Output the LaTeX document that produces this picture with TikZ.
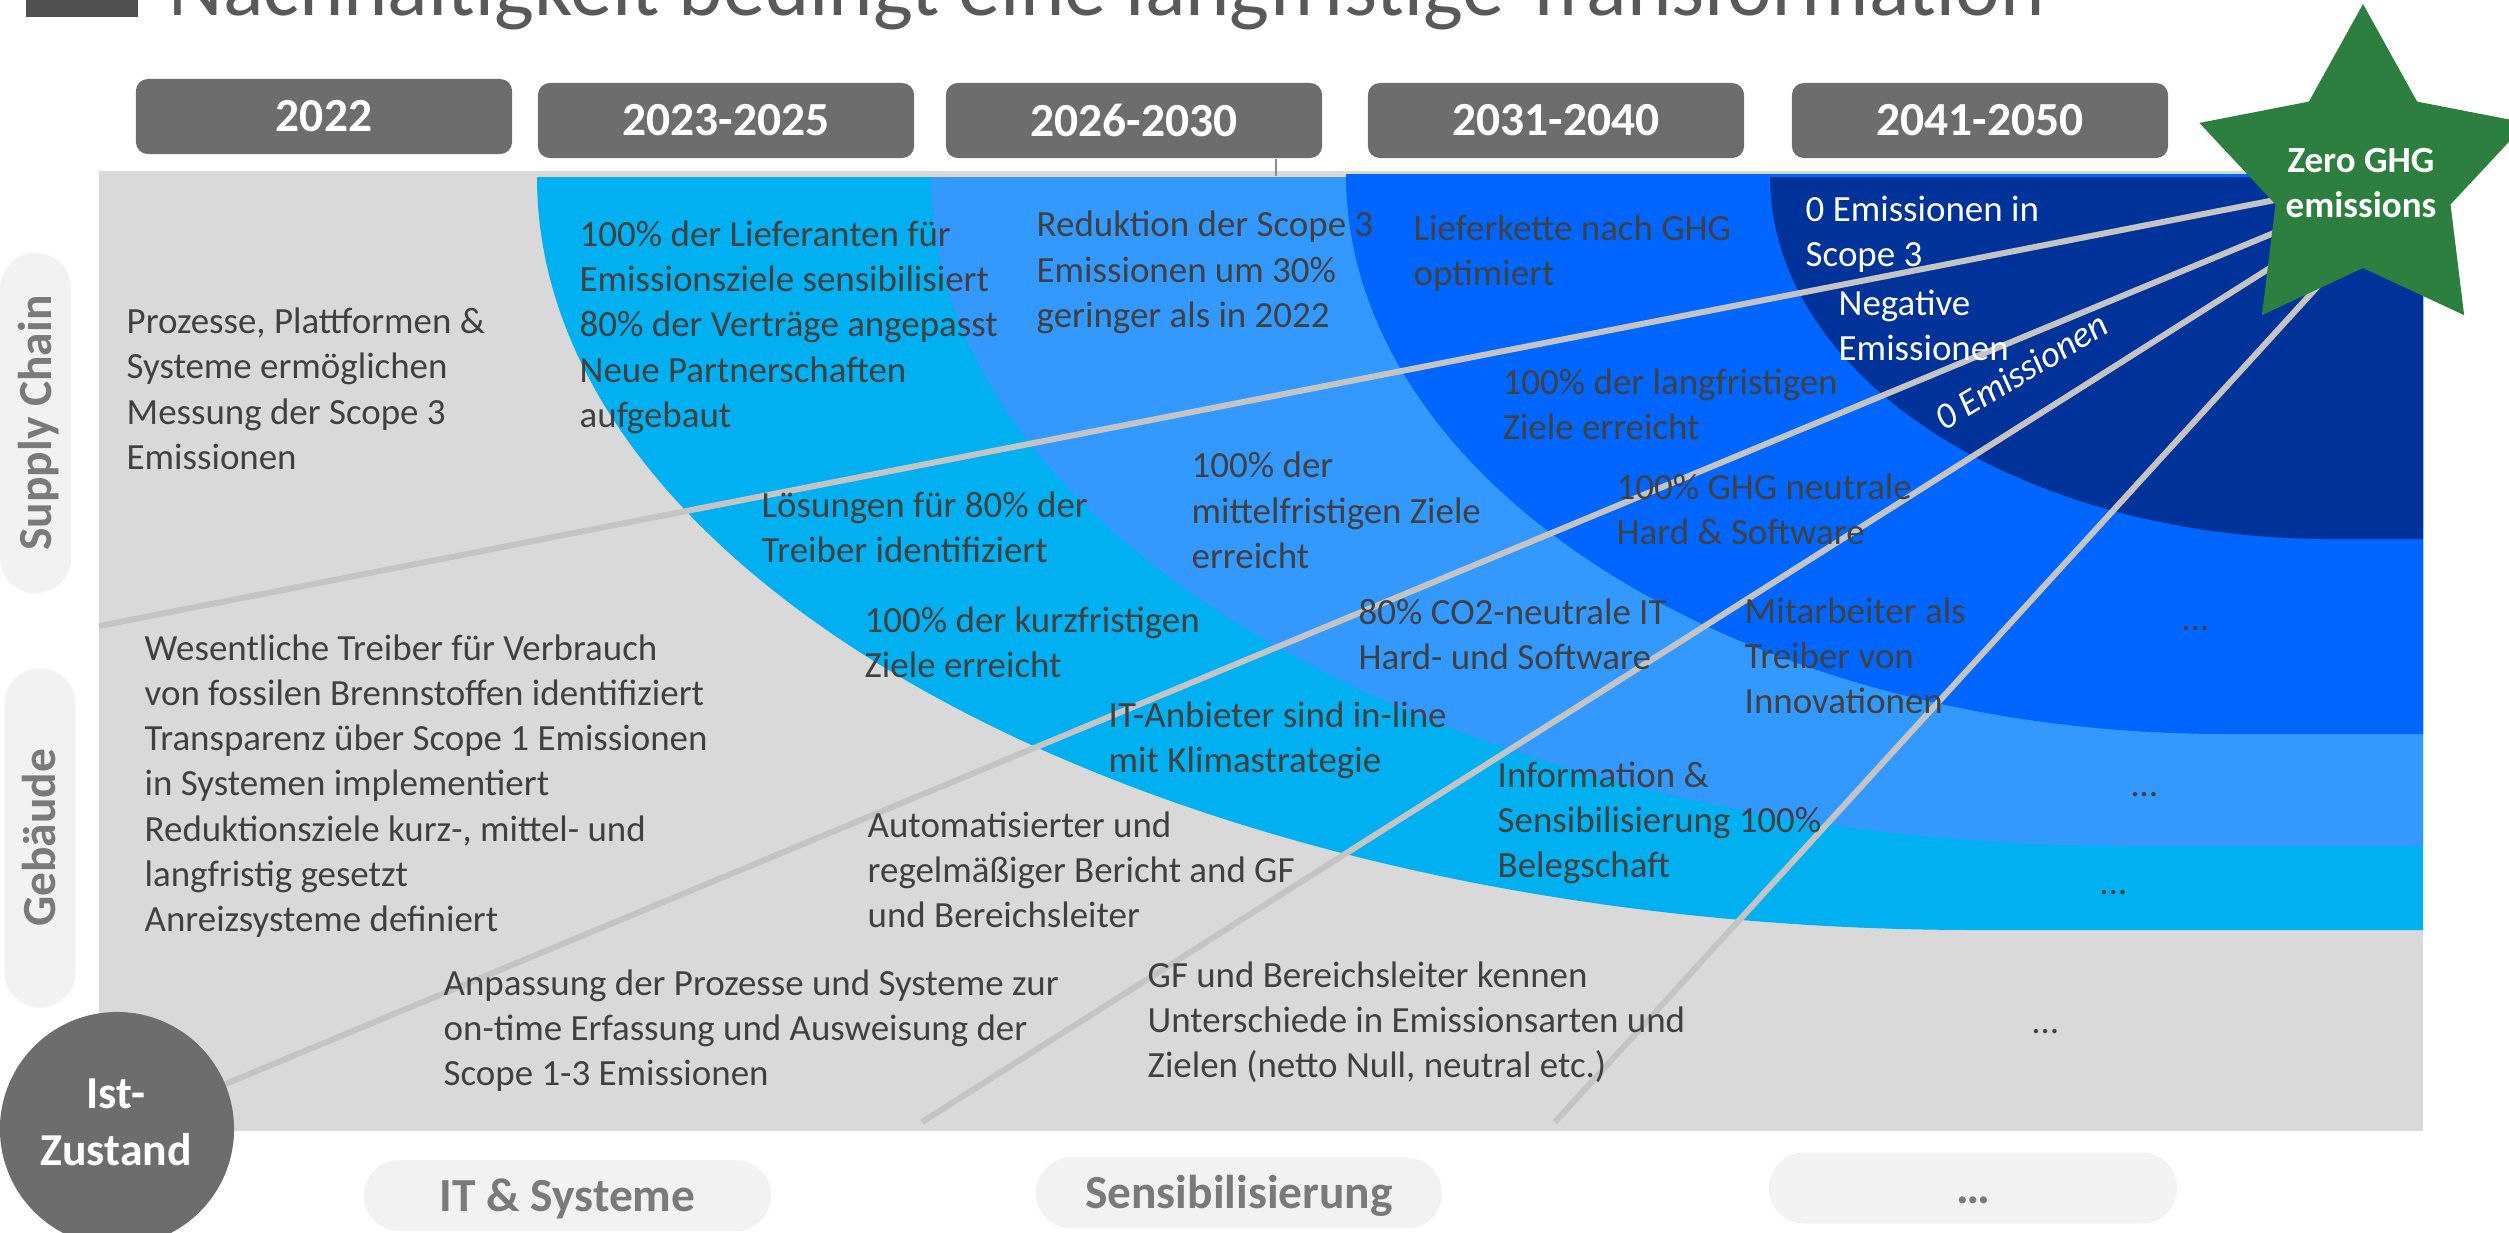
\documentclass[tikz,border=0pt]{standalone}
\usepackage{fontspec}
\setmainfont{Carlito}
\definecolor{bgGray}{HTML}{D9D9D9}
\definecolor{layA}{HTML}{00B0F0}
\definecolor{layB}{HTML}{3399FF}
\definecolor{layC}{HTML}{0066FF}
\definecolor{layD}{HTML}{003399}
\definecolor{boxGray}{HTML}{6D6D6D}
\definecolor{pillGray}{HTML}{F2F2F2}
\definecolor{pillText}{HTML}{7A7A7A}
\definecolor{bodyText}{HTML}{404040}
\definecolor{starGreen}{HTML}{2C7F3E}
\definecolor{rayGray}{HTML}{C4C4C4}
\definecolor{titleGray}{HTML}{595959}
\definecolor{titleSq}{HTML}{505050}
\definecolor{tickGray}{HTML}{8C8C8C}
\tikzset{
  body/.style={anchor=base west, inner sep=0pt, align=left, text=bodyText,
    font=\fontsize{10.5}{12.8}\selectfont},
  bodywhite/.style={body, text=white},
  yearbox/.style={fill=boxGray, rounded corners=0.12cm, minimum width=3.76cm,
    minimum height=0.75cm, inner sep=0pt, text=white,
    font=\fontsize{13.5}{16}\selectfont\bfseries},
  pill/.style={fill=pillGray, rounded corners=0.355cm, inner sep=0pt,
    minimum height=0.71cm, text=pillText, text height=9pt, text depth=0pt,
    font=\fontsize{13.5}{16}\selectfont\bfseries},
  ray/.style={draw=rayGray, line width=0.06cm},
}
\begin{document}
\begin{tikzpicture}[x=0.01cm,y=-0.01cm]
\useasboundingbox (0,0) rectangle (2509,1232);
\clip (0,0) rectangle (2509,1232);
\fill[white] (0,0) rectangle (2509,1232);
% title (mostly cut off)
\fill[titleSq] (26,-40) rectangle (138,17);
\node[anchor=base west, inner sep=0pt, text=titleGray,
  font=\fontsize{24}{28}\selectfont] (title) at (168,15)
  {Nachhaltigkeit bedingt eine langfristige Transformation};
% main background
\fill[bgGray] (99,171) rectangle (2423,1131);
% layers
\fill[layA] (537,177) arc[start angle=180, end angle=90, x radius=1440, y radius=753]
  -- (2423,930) -- (2423,177) -- cycle;
\fill[layB] (931,177) arc[start angle=180, end angle=90, x radius=1200, y radius=669]
  -- (2423,846) -- (2423,177) -- cycle;
\fill[layC] (1346,174) arc[start angle=180, end angle=90, x radius=880, y radius=560]
  -- (2423,734) -- (2423,174) -- cycle;
\fill[layD] (1770,177) arc[start angle=180, end angle=90, x radius=560, y radius=362]
  -- (2423,539) -- (2423,177) -- cycle;
% rays
\coordinate (corner) at (2423,171);
\coordinate (rayA) at (99,626);
\coordinate (istc) at (117,1129);
\coordinate (rayC) at (922,1122);
\coordinate (rayD) at (1555,1122);
\draw[ray] (corner) -- (rayA);
\draw[ray] (corner) -- (istc);
\draw[ray] (corner) -- (rayC);
\draw[ray] (corner) -- (rayD);
% year boxes
\node[yearbox] (y22) at (324,116.5) {2022};
\node[yearbox] (y23) at (726,120.5) {2023-2025};
\node[yearbox] (y26) at (1134,120.5) {2026-2030};
\node[yearbox] (y31) at (1556,120.5) {2031-2040};
\node[yearbox] (y41) at (1980,120.5) {2041-2050};
\coordinate (tick) at (1276,176);
\draw[tickGray, line width=0.6pt] (y26.south -| tick) -- (tick);
% side pills
\node[pill, rotate=90, minimum width=3.40cm] (sc) at (35.5,423) {Supply Chain};
\node[pill, rotate=90, minimum width=3.39cm] (geb) at (40,838) {Gebäude};
% bottom pills
\node[pill, minimum width=4.07cm] (itp) at (567.5,1195.5) {IT \& Systeme};
\node[pill, minimum width=4.06cm] (sens) at (1239,1193) {Sensibilisierung};
\node[pill, minimum width=4.08cm] (dotp) at (1973,1188) {…};
% texts (anchor = baseline of the last line)
\node[body] (t1) at (126,469) {Prozesse, Plattformen \&\\Systeme ermöglichen\\Messung der Scope 3\\Emissionen};
\node[body] (t2) at (144,931) {Wesentliche Treiber für Verbrauch\\von fossilen Brennstoffen identifiziert\\Transparenz über Scope 1 Emissionen\\in Systemen implementiert\\Reduktionsziele kurz-, mittel- und\\langfristig gesetzt\\Anreizsysteme definiert};
\node[body] (t3) at (579,427) {100\% der Lieferanten für\\Emissionsziele sensibilisiert\\80\% der Verträge angepasst\\Neue Partnerschaften\\aufgebaut};
\node[body] (t4) at (1036,327) {Reduktion der Scope 3\\Emissionen um 30\%\\geringer als in 2022};
\node[body] (t5) at (761,562) {Lösungen für 80\% der\\Treiber identifiziert};
\node[body] (t6) at (1191,568) {100\% der\\mittelfristigen Ziele\\erreicht};
\node[body] (t7) at (1413,285) {Lieferkette nach GHG\\optimiert};
\node[bodywhite] (t8) at (1805,266) {0 Emissionen in\\Scope 3};
\node[bodywhite] (t9) at (1838,360) {Negative\\Emissionen};
\node[bodywhite, rotate=31, font=\fontsize{10.5}{12.8}\selectfont\itshape] (t10) at (1944,432) {0 Emissionen};
\node[body] (t11) at (1502,439) {100\% der langfristigen\\Ziele erreicht};
\node[body] (t12) at (1616,544) {100\% GHG neutrale\\Hard \& Software};
\node[body] (t13) at (864,677) {100\% der kurzfristigen\\Ziele erreicht};
\node[body] (t14) at (1358,669) {80\% CO2-neutrale IT\\Hard- und Software};
\node[body] (t15) at (1108,772) {IT-Anbieter sind in-line\\mit Klimastrategie};
\node[body] (t16) at (1744,713) {Mitarbeiter als\\Treiber von\\Innovationen};
\node[body] (t17) at (1497,877) {Information \&\\Sensibilisierung 100\%\\Belegschaft};
\node[body] (t18) at (867,927) {Automatisierter und\\regelmäßiger Bericht and GF\\und Bereichsleiter};
\node[body] (t19) at (443,1085) {Anpassung der Prozesse und Systeme zur\\on-time Erfassung und Ausweisung der\\Scope 1-3 Emissionen};
\node[body] (t20) at (1147,1077) {GF und Bereichsleiter kennen\\Unterschiede in Emissionsarten und\\Zielen (netto Null, neutral etc.)};
\node[body] (d1) at (2182,630) {…};
\node[body] (d2) at (2131,796) {…};
\node[body] (d3) at (2100,894) {…};
\node[body] (d4) at (2032,1033) {…};
% star
\fill[starGreen] (2363,4) -- (2417.1,101.6) -- (2526.6,122.9) -- (2450.5,204.4)
  -- (2464.1,315.1) -- (2363,268) -- (2261.9,315.1) -- (2275.5,204.4)
  -- (2199.4,122.9) -- (2308.9,101.6) -- cycle;
\node[inner sep=0pt, align=center, text=white,
  font=\fontsize{10.5}{12.8}\selectfont\bfseries] (zero) at (2361,183) {Zero GHG\\emissions};
% Ist-Zustand
\node[circle, fill=boxGray, minimum size=2.34cm, inner sep=0pt] (ist) at (istc) {};
\node[inner sep=0pt, align=center, text=white,
  font=\fontsize{13}{16.2}\selectfont\bfseries] (istText) at (116,1122) {Ist-\\Zustand};
\end{tikzpicture}
\end{document}
